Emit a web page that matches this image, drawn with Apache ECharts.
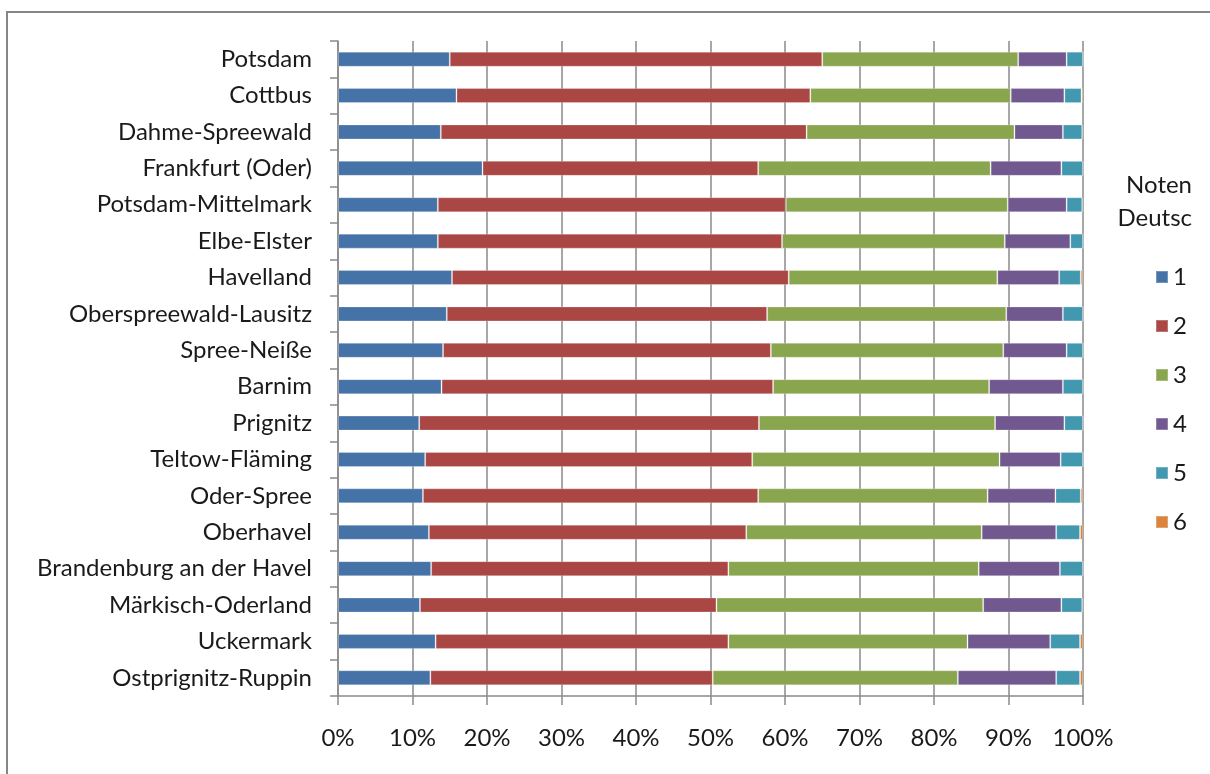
<!DOCTYPE html>
<html>
<head>
<meta charset="utf-8">
<script src="https://cdn.jsdelivr.net/npm/echarts@6/dist/echarts.min.js"></script>
<style>
  html, body { margin: 0; padding: 0; background: #fff; }
  #chart { width: 1210px; height: 774px; }
</style>
</head>
<body>
<div id="chart"></div>
<script>
// Landkreise / kreisfreie Städte, top to bottom
const regions = [
  'Potsdam', 'Cottbus', 'Dahme-Spreewald', 'Frankfurt (Oder)', 'Potsdam-Mittelmark',
  'Elbe-Elster', 'Havelland', 'Oberspreewald-Lausitz', 'Spree-Neiße', 'Barnim',
  'Prignitz', 'Teltow-Fläming', 'Oder-Spree', 'Oberhavel', 'Brandenburg an der Havel',
  'Märkisch-Oderland', 'Uckermark', 'Ostprignitz-Ruppin'
];

// Share of each grade (percent), one array per grade
const grade1 = [15.0, 15.9, 13.8, 19.4, 13.4, 13.4, 15.3, 14.6, 14.1, 13.9, 10.9, 11.7, 11.4, 12.2, 12.5, 11.0, 13.1, 12.4];
const grade2 = [50.0, 47.5, 49.1, 37.0, 46.7, 46.2, 45.2, 43.0, 44.0, 44.5, 45.6, 43.9, 45.0, 42.6, 39.9, 39.8, 39.3, 37.9];
const grade3 = [26.3, 26.9, 27.9, 31.2, 29.8, 29.9, 28.0, 32.1, 31.2, 29.0, 31.7, 33.2, 30.8, 31.6, 33.6, 35.8, 32.1, 32.9];
const grade4 = [6.5, 7.2, 6.5, 9.5, 7.9, 8.8, 8.3, 7.6, 8.5, 9.9, 9.3, 8.2, 9.1, 10.0, 10.9, 10.5, 11.1, 13.2];
const grade5 = [2.2, 2.3, 2.6, 2.9, 2.1, 1.7, 2.9, 2.7, 2.2, 2.7, 2.5, 3.0, 3.4, 3.2, 3.1, 2.8, 4.0, 3.2];
const grade6 = [0.0, 0.2, 0.1, 0.0, 0.1, 0.0, 0.3, 0.0, 0.0, 0.0, 0.0, 0.0, 0.3, 0.4, 0.0, 0.1, 0.4, 0.4];

const gradeNames = ['1', '2', '3', '4', '5', '6'];
const gradeData = [grade1, grade2, grade3, grade4, grade5, grade6];
const colors = ['#4572A7', '#AA4643', '#89A54E', '#71588F', '#4198AF', '#DB843D'];

const xTicks = { min: 0, max: 100, interval: 10 };

const FONT = 'Lato';
const TEXT = '#1a1a1a';
const chart = echarts.init(document.getElementById('chart'), null, { renderer: 'canvas' });

chart.setOption({
  animation: false,
  backgroundColor: '#ffffff',
  color: colors,
  title: {
    text: 'Noten\nDeutsc',
    left: 1192,
    top: 169,
    textAlign: 'right',
    padding: 0,
    textStyle: { fontFamily: FONT, fontSize: 24, fontWeight: 'normal', color: TEXT, lineHeight: 33, align: 'right' }
  },
  legend: {
    orient: 'vertical',
    left: 1155,
    top: 265,
    padding: 0,
    itemWidth: 12,
    itemHeight: 12,
    itemGap: 25,
    icon: 'rect',
    textStyle: { fontFamily: FONT, fontSize: 24, color: TEXT },
    data: gradeNames
  },
  grid: { left: 338, right: 127, top: 41, bottom: 78, containLabel: false },
  xAxis: {
    type: 'value',
    min: xTicks.min,
    max: xTicks.max,
    interval: xTicks.interval,
    axisLine: { show: true, lineStyle: { color: '#8a8a8a', width: 1.5 } },
    axisTick: { show: true, length: 9, lineStyle: { color: '#8a8a8a', width: 1.5 } },
    splitLine: { show: true, lineStyle: { color: '#8a8a8a', width: 1.5 } },
    axisLabel: { formatter: '{value}%', fontFamily: FONT, fontSize: 24, color: TEXT, margin: 30 }
  },
  yAxis: {
    type: 'category',
    inverse: true,
    data: regions,
    axisLine: { show: true, lineStyle: { color: '#8a8a8a', width: 1.5 } },
    axisTick: { show: true, length: 8, lineStyle: { color: '#8a8a8a', width: 1.5 } },
    axisLabel: { fontFamily: FONT, fontSize: 24, color: TEXT, margin: 26 }
  },
  series: gradeData.map((vals, i) => ({
    name: gradeNames[i],
    type: 'bar',
    stack: 'noten',
    barWidth: 15,
    data: vals,
    itemStyle: { color: colors[i], borderColor: 'rgba(255,255,255,0.25)', borderWidth: 1 }
  })),
  graphic: [{
    type: 'rect',
    shape: { x: 7, y: 12, width: 1240, height: 800 },
    style: { fill: 'none', stroke: '#868686', lineWidth: 2 },
    silent: true,
    z: 100
  }]
});
</script>
</body>
</html>
